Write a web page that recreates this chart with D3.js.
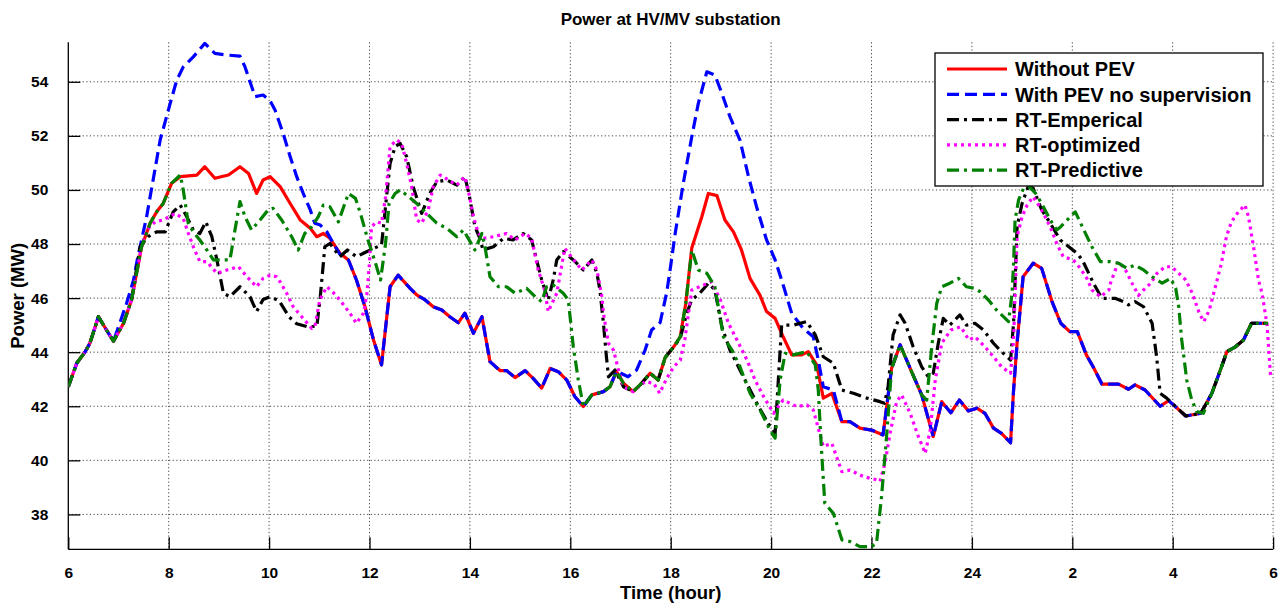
<!DOCTYPE html>
<html><head><meta charset="utf-8">
<script src="https://cdn.jsdelivr.net/npm/d3@7/dist/d3.min.js"></script>
<style>html,body{margin:0;padding:0;background:#fff;}svg{display:block;font-family:"Liberation Sans",Arial,sans-serif;font-weight:bold;}</style>
</head><body><svg id="c" width="1288" height="606"></svg>
<script>
// ---------------- DATA (hour, MW) ----------------
const xTicks = [6,8,10,12,14,16,18,20,22,24,26,28,30];
const xTickLabels = ["6","8","10","12","14","16","18","20","22","24","2","4","6"];
const yTicks = [38,40,42,44,46,48,50,52,54];
const seriesNames = ["Without PEV","With PEV no supervision","RT-Emperical","RT-optimized","RT-Predictive"];

const withoutPEV = [[6.0,42.72],[6.17,43.6],[6.33,44.0],[6.43,44.33],[6.6,45.31],[6.76,44.82],[6.9,44.41],[7.1,45.07],[7.26,45.93],[7.46,47.9],[7.63,48.77],[7.76,49.19],[7.89,49.5],[8.06,50.25],[8.23,50.49],[8.56,50.55],[8.72,50.86],[8.92,50.43],[9.19,50.55],[9.42,50.86],[9.59,50.61],[9.75,49.87],[9.88,50.37],[10.02,50.49],[10.22,50.12],[10.42,49.5],[10.62,48.89],[10.82,48.58],[10.95,48.27],[11.08,48.39],[11.21,48.21],[11.41,47.66],[11.58,47.41],[11.74,46.67],[11.91,45.68],[12.08,44.45],[12.24,43.53],[12.41,46.42],[12.57,46.85],[12.81,46.36],[12.94,46.12],[13.11,45.93],[13.27,45.68],[13.44,45.56],[13.6,45.31],[13.77,45.09],[13.9,45.44],[14.07,44.7],[14.24,45.31],[14.4,43.65],[14.6,43.32],[14.73,43.32],[14.9,43.06],[15.1,43.32],[15.26,43.03],[15.43,42.67],[15.6,43.4],[15.76,43.28],[15.93,42.97],[16.09,42.36],[16.26,41.99],[16.43,42.42],[16.66,42.54],[16.79,42.72],[16.92,43.28],[17.06,42.85],[17.25,42.54],[17.42,42.85],[17.59,43.22],[17.75,42.97],[17.89,43.8],[18.06,44.2],[18.19,44.57],[18.3,45.8],[18.42,47.85],[18.62,49.01],[18.75,49.87],[18.92,49.79],[19.08,48.89],[19.25,48.45],[19.41,47.78],[19.58,46.73],[19.78,46.1],[19.91,45.5],[20.08,45.25],[20.24,44.57],[20.41,43.9],[20.61,43.9],[20.74,44.02],[20.91,43.53],[21.04,42.3],[21.21,42.48],[21.41,41.43],[21.57,41.43],[21.77,41.19],[22.0,41.12],[22.23,40.94],[22.4,43.4],[22.57,44.27],[22.77,43.4],[23.0,42.42],[23.23,40.88],[23.4,42.17],[23.58,41.76],[23.75,42.23],[23.93,41.83],[24.1,41.93],[24.26,41.74],[24.43,41.19],[24.59,41.0],[24.77,40.65],[24.83,42.6],[24.9,44.33],[25.02,46.79],[25.22,47.29],[25.39,47.1],[25.6,45.85],[25.77,45.07],[25.95,44.76],[26.1,44.76],[26.28,43.9],[26.42,43.44],[26.59,42.82],[26.92,42.82],[27.12,42.63],[27.25,42.79],[27.45,42.6],[27.75,42.0],[27.92,42.21],[28.26,41.64],[28.56,41.74],[28.78,42.48],[28.95,43.34],[29.08,44.02],[29.25,44.2],[29.41,44.45],[29.57,45.07],[29.9,45.07]];

const withPEV = [[6.0,42.72],[6.17,43.6],[6.33,44.0],[6.43,44.33],[6.6,45.31],[6.76,44.82],[6.9,44.41],[7.0,44.94],[7.16,45.8],[7.3,46.67],[7.36,47.29],[7.56,49.01],[7.76,51.11],[7.83,51.85],[8.03,53.2],[8.16,54.06],[8.29,54.55],[8.49,54.92],[8.72,55.42],[8.92,55.05],[9.16,54.99],[9.42,54.95],[9.52,54.55],[9.72,53.45],[9.88,53.51],[10.02,53.3],[10.12,52.95],[10.28,52.09],[10.42,51.23],[10.55,50.49],[10.68,49.87],[10.82,49.26],[10.91,48.77],[11.02,48.7],[11.15,48.45],[11.28,48.02],[11.41,47.62],[11.58,47.41],[11.74,46.67],[11.91,45.68],[12.08,44.45],[12.24,43.53],[12.41,46.42],[12.57,46.85],[12.81,46.36],[12.94,46.12],[13.11,45.93],[13.27,45.68],[13.44,45.56],[13.6,45.31],[13.77,45.09],[13.9,45.44],[14.07,44.7],[14.24,45.31],[14.4,43.65],[14.6,43.32],[14.73,43.32],[14.9,43.06],[15.1,43.32],[15.26,43.03],[15.43,42.67],[15.6,43.4],[15.76,43.28],[15.93,42.97],[16.09,42.36],[16.26,41.99],[16.43,42.42],[16.66,42.54],[16.79,42.72],[16.92,43.3],[17.15,43.09],[17.32,43.34],[17.49,44.08],[17.62,44.82],[17.79,45.1],[17.92,46.2],[18.0,47.2],[18.09,48.4],[18.25,50.24],[18.42,51.97],[18.55,53.2],[18.72,54.37],[18.88,54.25],[19.02,53.57],[19.18,52.71],[19.38,51.84],[19.55,50.49],[19.71,49.38],[19.91,48.15],[20.08,47.41],[20.21,46.67],[20.41,45.44],[20.64,44.88],[20.84,44.57],[20.94,43.71],[21.04,42.72],[21.24,42.6],[21.41,41.43],[21.57,41.43],[21.77,41.19],[22.0,41.12],[22.23,40.94],[22.4,43.4],[22.57,44.27],[22.77,43.4],[23.0,42.42],[23.23,40.88],[23.4,42.17],[23.58,41.76],[23.75,42.23],[23.93,41.83],[24.1,41.93],[24.26,41.74],[24.43,41.19],[24.59,41.0],[24.77,40.65],[24.83,42.6],[24.9,44.33],[25.02,46.79],[25.22,47.29],[25.39,47.1],[25.6,45.85],[25.77,45.07],[25.95,44.76],[26.1,44.76],[26.28,43.9],[26.42,43.44],[26.59,42.82],[26.92,42.82],[27.12,42.63],[27.25,42.79],[27.45,42.6],[27.75,42.0],[27.92,42.21],[28.26,41.64],[28.56,41.74],[28.78,42.48],[28.95,43.34],[29.08,44.02],[29.25,44.2],[29.41,44.45],[29.57,45.07],[29.9,45.07]];

const rtEmpirical = [[6.0,42.72],[6.17,43.6],[6.33,44.0],[6.43,44.33],[6.6,45.31],[6.76,44.82],[6.9,44.41],[7.1,45.07],[7.26,45.93],[7.43,47.9],[7.59,48.27],[7.76,48.45],[7.93,48.45],[8.09,49.19],[8.23,49.44],[8.36,49.01],[8.49,48.52],[8.62,48.39],[8.74,48.82],[8.86,48.27],[8.96,47.41],[9.09,46.18],[9.22,46.05],[9.42,46.42],[9.62,46.05],[9.75,45.5],[9.88,45.95],[10.02,46.05],[10.2,45.9],[10.4,45.3],[10.55,45.05],[10.75,44.95],[10.95,44.95],[11.02,46.05],[11.11,47.9],[11.21,48.02],[11.41,47.53],[11.56,47.78],[11.74,47.53],[11.88,47.66],[12.08,47.84],[12.24,47.96],[12.34,49.75],[12.41,50.98],[12.51,51.6],[12.61,51.72],[12.74,51.23],[12.87,50.12],[13.04,49.13],[13.2,49.87],[13.34,50.3],[13.54,50.37],[13.74,50.18],[13.9,50.49],[13.98,49.87],[14.04,49.26],[14.1,48.64],[14.2,48.21],[14.26,47.78],[14.47,47.9],[14.67,48.21],[14.86,48.15],[15.06,48.39],[15.23,48.15],[15.33,47.41],[15.43,46.67],[15.56,45.93],[15.66,46.67],[15.73,47.41],[15.86,47.72],[16.06,47.41],[16.26,47.04],[16.43,47.41],[16.53,46.92],[16.59,46.3],[16.66,45.07],[16.72,43.83],[16.76,43.09],[16.89,43.34],[17.06,42.72],[17.25,42.54],[17.42,42.85],[17.59,43.22],[17.75,42.97],[17.89,43.8],[18.06,44.2],[18.19,44.51],[18.32,45.44],[18.42,45.93],[18.58,46.18],[18.75,46.55],[18.88,46.3],[19.02,44.94],[19.18,44.08],[19.38,43.34],[19.55,42.72],[19.75,41.99],[19.98,41.25],[20.08,41.0],[20.21,45.0],[20.44,45.0],[20.71,45.13],[20.88,44.64],[21.04,43.83],[21.24,43.59],[21.41,42.6],[21.64,42.48],[21.91,42.3],[22.17,42.17],[22.26,42.11],[22.33,42.72],[22.43,44.64],[22.57,45.38],[22.67,45.07],[22.83,44.2],[23.0,43.46],[23.13,43.09],[23.23,43.22],[23.33,44.33],[23.43,45.25],[23.56,45.0],[23.76,45.38],[23.89,45.0],[24.06,45.07],[24.23,44.82],[24.43,44.33],[24.59,44.02],[24.77,43.71],[24.83,45.07],[24.9,48.64],[25.0,49.5],[25.12,50.12],[25.22,50.06],[25.39,49.26],[25.56,48.77],[25.76,48.15],[25.93,47.9],[26.09,47.66],[26.2,47.41],[26.36,46.79],[26.42,46.55],[26.59,45.99],[26.85,45.99],[27.02,45.87],[27.12,45.75],[27.25,45.87],[27.42,45.68],[27.59,45.07],[27.68,43.83],[27.75,42.48],[27.88,42.3],[28.26,41.64],[28.56,41.74],[28.78,42.48],[28.95,43.34],[29.08,44.02],[29.25,44.2],[29.41,44.45],[29.57,45.07],[29.9,45.07]];

const rtOptimized = [[6.0,42.72],[6.17,43.6],[6.33,44.0],[6.43,44.33],[6.6,45.31],[6.76,44.82],[6.9,44.41],[7.1,45.07],[7.26,45.93],[7.46,47.9],[7.56,48.52],[7.73,48.82],[7.89,48.89],[8.13,49.13],[8.29,48.95],[8.39,48.4],[8.49,47.9],[8.62,47.35],[8.76,47.35],[8.96,46.92],[9.16,47.04],[9.39,47.16],[9.56,46.79],[9.75,46.42],[9.88,46.73],[10.02,46.85],[10.15,46.79],[10.22,46.6],[10.35,46.18],[10.48,45.68],[10.65,45.31],[10.85,44.88],[10.91,44.94],[11.01,45.93],[11.15,46.42],[11.28,46.2],[11.41,45.93],[11.61,45.44],[11.74,45.07],[11.88,45.44],[11.95,46.18],[12.0,47.3],[12.04,48.64],[12.14,48.82],[12.24,48.77],[12.32,49.75],[12.41,51.6],[12.54,51.85],[12.64,51.72],[12.74,50.98],[12.84,50.12],[12.94,48.89],[13.04,48.77],[13.17,49.26],[13.27,50.12],[13.41,50.55],[13.57,50.37],[13.74,50.18],[13.9,50.49],[13.98,49.87],[14.07,49.01],[14.17,48.39],[14.26,48.21],[14.47,48.27],[14.73,48.39],[14.9,48.15],[15.1,48.39],[15.23,48.21],[15.36,47.04],[15.49,46.3],[15.56,45.5],[15.73,46.18],[15.89,47.84],[16.02,47.53],[16.23,47.04],[16.43,47.41],[16.53,47.04],[16.63,46.05],[16.66,45.44],[16.76,44.33],[16.86,44.08],[16.96,43.34],[17.06,42.72],[17.25,42.54],[17.49,42.91],[17.66,42.85],[17.78,42.48],[17.92,43.03],[18.06,43.46],[18.19,43.7],[18.28,44.45],[18.42,46.3],[18.65,46.48],[18.81,46.6],[18.99,45.93],[19.15,45.07],[19.32,44.45],[19.52,43.71],[19.68,42.97],[19.85,42.36],[20.05,41.74],[20.24,42.23],[20.51,41.99],[20.71,42.05],[20.84,41.86],[21.04,40.51],[21.21,40.63],[21.41,39.58],[21.57,39.64],[21.84,39.4],[22.1,39.28],[22.17,39.22],[22.27,39.9],[22.37,41.0],[22.5,42.17],[22.6,42.42],[22.77,41.74],[22.91,41.0],[23.07,40.26],[23.17,41.12],[23.27,42.97],[23.4,44.33],[23.58,44.82],[23.78,44.94],[23.94,44.45],[24.06,44.57],[24.26,44.2],[24.43,43.83],[24.59,43.46],[24.77,43.22],[24.83,44.45],[24.9,48.27],[25.0,49.01],[25.1,49.44],[25.22,49.75],[25.39,49.26],[25.56,48.64],[25.69,48.02],[25.82,47.53],[26.02,47.41],[26.16,47.1],[26.29,46.73],[26.39,46.3],[26.56,46.05],[26.73,46.3],[26.76,46.55],[26.92,47.35],[27.06,47.04],[27.19,46.55],[27.32,46.1],[27.42,46.3],[27.56,46.55],[27.69,46.92],[27.85,47.16],[27.98,47.16],[28.12,46.92],[28.26,46.67],[28.39,46.18],[28.53,45.44],[28.62,45.13],[28.73,45.56],[28.85,46.42],[28.97,47.29],[29.07,48.27],[29.17,48.82],[29.31,49.19],[29.44,49.44],[29.51,49.01],[29.61,47.9],[29.71,46.67],[29.78,46.18],[29.88,45.0],[29.95,43.1]];

const rtPredictive = [[6.0,42.72],[6.17,43.6],[6.33,44.0],[6.43,44.33],[6.6,45.31],[6.76,44.82],[6.9,44.41],[7.1,45.07],[7.26,45.93],[7.46,47.9],[7.63,48.77],[7.76,49.19],[7.89,49.5],[8.06,50.25],[8.23,50.55],[8.29,50.0],[8.39,48.77],[8.49,48.45],[8.62,48.15],[8.76,47.78],[8.89,47.41],[9.09,47.41],[9.22,47.41],[9.32,48.52],[9.42,49.57],[9.52,49.01],[9.65,48.52],[9.82,48.89],[9.98,49.26],[10.08,49.32],[10.25,48.89],[10.45,48.27],[10.58,47.78],[10.71,48.39],[10.85,48.64],[10.98,49.01],[11.08,49.44],[11.21,49.38],[11.38,48.82],[11.58,49.87],[11.72,49.69],[11.82,49.13],[11.95,48.27],[12.12,47.29],[12.22,46.67],[12.32,48.02],[12.39,49.5],[12.51,49.87],[12.61,50.0],[12.78,49.75],[12.94,49.5],[13.14,49.13],[13.34,48.77],[13.54,48.58],[13.74,48.27],[13.87,48.52],[14.1,47.78],[14.24,48.39],[14.3,47.9],[14.4,46.79],[14.57,46.42],[14.73,46.42],[14.9,46.18],[15.13,46.36],[15.3,46.05],[15.43,45.87],[15.53,46.42],[15.66,46.48],[15.86,46.18],[15.96,45.93],[16.06,44.2],[16.16,42.97],[16.26,41.99],[16.43,42.42],[16.66,42.54],[16.79,42.72],[16.92,43.28],[17.06,42.85],[17.25,42.54],[17.42,42.85],[17.59,43.22],[17.75,42.97],[17.89,43.8],[18.06,44.2],[18.19,44.57],[18.3,45.8],[18.42,47.78],[18.55,47.04],[18.72,46.92],[18.88,46.42],[19.05,44.57],[19.22,44.08],[19.38,43.46],[19.58,42.48],[19.78,41.86],[19.98,41.12],[20.08,40.82],[20.18,42.97],[20.28,43.96],[20.44,43.9],[20.71,44.02],[20.88,43.53],[20.94,42.6],[21.0,40.51],[21.07,38.41],[21.24,38.04],[21.41,37.06],[21.57,37.0],[21.77,36.81],[22.0,36.81],[22.1,36.93],[22.2,38.66],[22.3,40.88],[22.4,43.4],[22.57,44.27],[22.77,43.4],[23.0,42.42],[23.1,42.23],[23.2,44.2],[23.3,45.81],[23.4,46.42],[23.56,46.55],[23.73,46.73],[23.89,46.42],[24.06,46.36],[24.16,46.24],[24.33,45.93],[24.49,45.56],[24.73,45.13],[24.8,46.18],[24.83,47.29],[24.86,48.89],[24.93,49.63],[25.03,50.06],[25.14,50.12],[25.27,49.87],[25.39,49.5],[25.56,48.89],[25.69,48.52],[25.77,48.64],[25.9,48.89],[26.06,49.19],[26.23,48.52],[26.39,47.9],[26.56,47.35],[26.76,47.35],[26.92,47.29],[27.09,47.1],[27.25,47.22],[27.42,47.04],[27.59,46.79],[27.79,46.55],[27.96,46.73],[28.06,46.36],[28.12,45.68],[28.18,44.45],[28.28,42.97],[28.38,42.23],[28.48,41.8],[28.61,41.74],[28.78,42.48],[28.95,43.34],[29.08,44.02],[29.25,44.2],[29.41,44.45],[29.57,45.07],[29.9,45.07]];

// ---------------- CHART ----------------
const svg = d3.select("#c");
const L = 68.3, R = 1273.1, T = 42.3, B = 549.3;
const x = d3.scaleLinear().domain([6,30]).range([L,R]);
const y = d3.scaleLinear().domain([36.71,55.46]).range([B,T]);

svg.append("rect").attr("width",1288).attr("height",606).attr("fill","#fff");

// grid
const grid = svg.append("g").attr("stroke","#444").attr("stroke-width",1).attr("stroke-dasharray","1.2,2.4");
grid.selectAll(".gx").data(xTicks.slice(1)).join("line")
  .attr("x1",d=>x(d)).attr("x2",d=>x(d)).attr("y1",T).attr("y2",B);
grid.selectAll(".gy").data(yTicks).join("line")
  .attr("x1",L).attr("x2",R).attr("y1",d=>y(d)).attr("y2",d=>y(d));

// axes
const xAxis = d3.axisBottom(x).tickValues(xTicks).tickFormat((d,i)=>xTickLabels[i]).tickSizeInner(-12).tickSizeOuter(0).tickPadding(18);
const gx = svg.append("g").attr("transform",`translate(0,${B})`).call(xAxis);
const yAxis = d3.axisLeft(y).tickValues(yTicks).tickSizeInner(-12).tickSizeOuter(0).tickPadding(20);
const gy = svg.append("g").attr("transform",`translate(${L},0)`).call(yAxis);
[gx,gy].forEach(g=>{
  g.select(".domain").attr("stroke","#000").attr("stroke-width",1.3);
  g.selectAll(".tick line").attr("stroke","#000").attr("stroke-width",1.3);
  g.selectAll(".tick text").attr("fill","#000").attr("font-size",15.5).attr("font-weight","bold")
   .attr("font-family","'Liberation Sans',Arial,sans-serif");
});
gy.select(".domain").attr("d",`M0,${T}V${B}`);
gx.select(".domain").attr("d",`M${L},0H${R}`);

// clip
svg.append("clipPath").attr("id","clip").append("rect").attr("x",L).attr("y",T-2).attr("width",R-L+2).attr("height",B-T+2);

const line = d3.line().x(d=>x(d[0])).y(d=>y(d[1]));
const series = [
  {name:seriesNames[0], data:withoutPEV, color:"#ff0000", dash:null},
  {name:seriesNames[1], data:withPEV, color:"#0000ff", dash:"12,6"},
  {name:seriesNames[2], data:rtEmpirical, color:"#000000", dash:"12,5,3,5"},
  {name:seriesNames[3], data:rtOptimized, color:"#ff00ff", dash:"3,4"},
  {name:seriesNames[4], data:rtPredictive, color:"#008000", dash:"12,5,3,5"}
];
const plot = svg.append("g").attr("clip-path","url(#clip)");
series.forEach(s=>{
  plot.append("path").attr("d",line(s.data)).attr("fill","none")
    .attr("stroke",s.color).attr("stroke-width",3.2)
    .attr("stroke-dasharray",s.dash).attr("stroke-linejoin","round");
});

// title & labels
svg.append("text").attr("x",(L+R)/2).attr("y",25).attr("text-anchor","middle").attr("font-size",17).text("Power at HV/MV substation");
svg.append("text").attr("x",(L+R)/2).attr("y",599).attr("text-anchor","middle").attr("font-size",18.5).text("Time (hour)");
svg.append("text").attr("transform",`translate(24,${(T+B)/2}) rotate(-90)`).attr("text-anchor","middle").attr("font-size",18.5).text("Power (MW)");

// legend
const lg = svg.append("g");
lg.append("rect").attr("x",935).attr("y",53).attr("width",328).attr("height",133).attr("fill","#fff").attr("stroke","#000").attr("stroke-width",1.3);
series.forEach((s,i)=>{
  const yy = 69 + i*25.3;
  lg.append("line").attr("x1",947).attr("x2",1007).attr("y1",yy).attr("y2",yy)
    .attr("stroke",s.color).attr("stroke-width",3.2).attr("stroke-dasharray",s.dash);
  lg.append("text").attr("x",1015).attr("y",yy).attr("dy","0.36em").attr("font-size",20).text(s.name);
});
</script></body></html>
